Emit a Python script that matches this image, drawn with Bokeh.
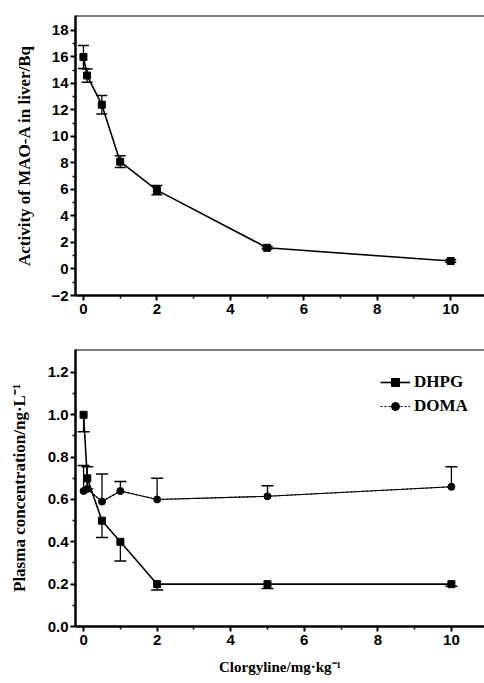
from bokeh.plotting import figure
from bokeh.layouts import column
from bokeh.models import (ColumnDataSource, Whisker, TeeHead, FixedTicker, Span,
                          NumeralTickFormatter, Legend, LegendItem, Range1d)
from bokeh.embed import file_html
from bokeh.resources import INLINE

# ---------------- data ----------------
dose = [0, 0.1, 0.5, 1, 2, 5, 10]

mao_a = [16.0, 14.6, 12.4, 8.1, 5.95, 1.6, 0.6]
mao_a_err = [0.87, 0.5, 0.7, 0.45, 0.35, 0.1, 0.1]

dhpg = [1.0, 0.70, 0.50, 0.40, 0.20, 0.20, 0.20]
dhpg_err = [0.08, 0.05, 0.08, 0.09, 0.027, 0.02, 0.01]

doma = [0.64, 0.65, 0.59, 0.64, 0.60, 0.615, 0.66]
doma_err = [0.12, 0.105, 0.13, 0.045, 0.10, 0.05, 0.095]

x_ticks = [0, 2, 4, 6, 8, 10]
x_minor = [1, 3, 5, 7, 9]
top_y_ticks = [-2, 0, 2, 4, 6, 8, 10, 12, 14, 16, 18]
top_y_minor = [-1, 1, 3, 5, 7, 9, 11, 13, 15, 17]
bot_y_ticks = [0.0, 0.2, 0.4, 0.6, 0.8, 1.0, 1.2]
bot_y_minor = [0.1, 0.3, 0.5, 0.7, 0.9, 1.1]

top_ylabel = "Activity of MAO-A in liver/Bq"
bot_ylabel = "Plasma concentration/ng·L⁻¹"
bot_xlabel = "Clorgyline/mg·kg⁻¹"

TICK_FONT = "Liberation Sans"
LABEL_FONT = "Liberation Serif"


def style_axis(ax, ticks, minor):
    ax.ticker = FixedTicker(ticks=ticks, minor_ticks=minor)
    ax.axis_line_width = 2.5
    ax.axis_line_color = "black"
    ax.major_tick_line_width = 2
    ax.minor_tick_line_width = 1.5
    ax.major_tick_in = 0
    ax.major_tick_out = 5
    ax.minor_tick_in = 0
    ax.minor_tick_out = 3
    ax.major_label_text_font = TICK_FONT
    ax.major_label_text_font_style = "bold"
    ax.major_label_text_font_size = "15px"
    ax.major_label_text_color = "black"
    ax.axis_label_text_font = LABEL_FONT
    ax.axis_label_text_font_style = "bold"
    ax.axis_label_text_font_size = "17px"
    ax.axis_label_text_color = "black"


def top_border(p):
    p.add_layout(Span(location=p.y_range.end, dimension="width",
                      line_color="black", line_width=2))


def base_fig(width, height, xr, yr, left, top, bottom):
    p = figure(width=width, height=height, x_range=Range1d(*xr), y_range=Range1d(*yr),
               output_backend="svg", toolbar_location=None,
               min_border_left=left, min_border_right=0, min_border_top=top,
               min_border_bottom=bottom)
    p.outline_line_color = None
    p.xgrid.grid_line_color = None
    p.ygrid.grid_line_color = None
    p.background_fill_color = "white"
    p.border_fill_color = "white"
    return p


# ---------------- top panel ----------------
p1 = base_fig(484, 320, (-0.216, 10.92), (-2, 19.13), 72, 15, 25)
x1, y1 = p1.below[0], p1.left[0]
top_border(p1)
style_axis(x1, x_ticks, x_minor)
style_axis(y1, top_y_ticks, top_y_minor)
y1.axis_label = top_ylabel
y1.major_label_standoff = 2
y1.axis_label_standoff = 14
x1.major_label_standoff = 3

s1 = ColumnDataSource(dict(x=dose, y=mao_a,
                           lo=[v - e for v, e in zip(mao_a, mao_a_err)],
                           hi=[v + e for v, e in zip(mao_a, mao_a_err)]))
p1.line("x", "y", source=s1, line_color="black", line_width=1.6)
p1.scatter("x", "y", source=s1, marker="square", size=7, color="black")
p1.add_layout(Whisker(source=s1, base="x", lower="lo", upper="hi", line_width=1.3,
                      line_color="black",
                      upper_head=TeeHead(size=11, line_width=1.5, line_color="black"),
                      lower_head=TeeHead(size=11, line_width=1.5, line_color="black")))

# ---------------- bottom panel ----------------
p2 = base_fig(484, 363, (-0.22, 10.9), (0, 1.3085), 75, 29, 57)
x2, y2 = p2.below[0], p2.left[0]
top_border(p2)
style_axis(x2, x_ticks, x_minor)
style_axis(y2, bot_y_ticks, bot_y_minor)
x2.axis_label_text_font_size = "15px"
y2.formatter = NumeralTickFormatter(format="0.0")
y2.axis_label = bot_ylabel
y2.major_label_standoff = 2
y2.axis_label_standoff = 16
x2.axis_label = bot_xlabel
x2.major_label_standoff = 3
x2.axis_label_standoff = 11

s_dhpg = ColumnDataSource(dict(x=dose, y=dhpg,
                               lo=[v - e for v, e in zip(dhpg, dhpg_err)]))
s_doma = ColumnDataSource(dict(x=dose, y=doma,
                               hi=[v + e for v, e in zip(doma, doma_err)]))

dhpg_line = p2.line("x", "y", source=s_dhpg, line_color="black", line_width=1.6)
dhpg_pts = p2.scatter("x", "y", source=s_dhpg, marker="square", size=7, color="black")
p2.line("x", "y", source=s_doma, line_color="black", line_width=1.1)
doma_dot = p2.line("x", "y", source=s_doma, line_color="black", line_width=1.1,
                   line_dash="2 2")
doma_pts = p2.scatter("x", "y", source=s_doma, marker="circle", size=7, color="black")

p2.add_layout(Whisker(source=s_dhpg, base="x", lower="lo", upper="y", line_width=1.3,
                      line_color="black", upper_head=None,
                      lower_head=TeeHead(size=12, line_width=1.5, line_color="black")))
p2.add_layout(Whisker(source=s_doma, base="x", lower="y", upper="hi", line_width=1.3,
                      line_color="black", lower_head=None,
                      upper_head=TeeHead(size=12, line_width=1.5, line_color="black")))

legend = Legend(items=[LegendItem(label="DHPG", renderers=[dhpg_line, dhpg_pts]),
                       LegendItem(label="DOMA", renderers=[doma_dot, doma_pts])],
                location=(305, 210), padding=0, spacing=4, margin=0,
                glyph_width=30, glyph_height=20, label_height=20, label_standoff=4,
                border_line_color=None, background_fill_alpha=0,
                label_text_font=LABEL_FONT, label_text_font_style="bold",
                label_text_font_size="17px", label_text_color="black")
p2.add_layout(legend)

layout = column(p1, p2, spacing=0)
open("out.html", "w").write(file_html(layout, INLINE))
